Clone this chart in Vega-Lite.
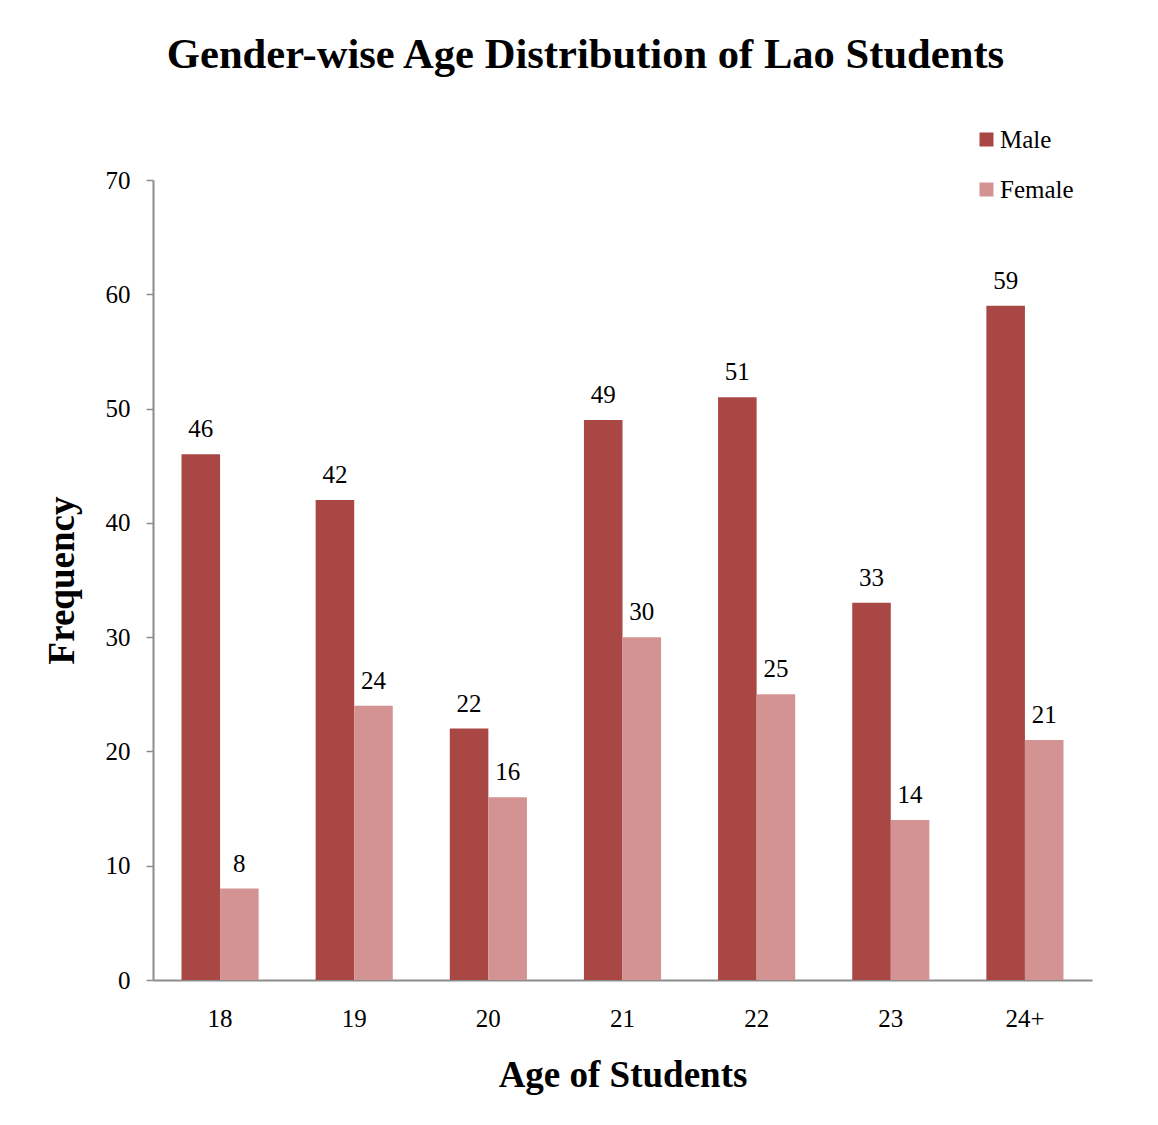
{
  "$schema": "https://vega.github.io/schema/vega-lite/v6.json",
  "width": 939,
  "height": 800,
  "autosize": {"type": "none"},
  "padding": {"left": 153, "top": 180, "right": 66, "bottom": 145},
  "background": "white",
  "title": {
    "text": "Gender-wise Age Distribution of Lao Students",
    "font": "Liberation Serif",
    "fontSize": 42.6,
    "fontWeight": "bold",
    "color": "black",
    "anchor": "middle",
    "frame": "group",
    "dx": -37,
    "offset": 50
  },
  "data": {
    "values": [
      {"age": "18", "gender": "Male", "freq": 46},
      {"age": "18", "gender": "Female", "freq": 8},
      {"age": "19", "gender": "Male", "freq": 42},
      {"age": "19", "gender": "Female", "freq": 24},
      {"age": "20", "gender": "Male", "freq": 22},
      {"age": "20", "gender": "Female", "freq": 16},
      {"age": "21", "gender": "Male", "freq": 49},
      {"age": "21", "gender": "Female", "freq": 30},
      {"age": "22", "gender": "Male", "freq": 51},
      {"age": "22", "gender": "Female", "freq": 25},
      {"age": "23", "gender": "Male", "freq": 33},
      {"age": "23", "gender": "Female", "freq": 14},
      {"age": "24+", "gender": "Male", "freq": 59},
      {"age": "24+", "gender": "Female", "freq": 21}
    ]
  },
  "encoding": {
    "x": {
      "field": "age",
      "type": "nominal",
      "sort": null,
      "scale": {"paddingInner": 0.425, "paddingOuter": 0.2125},
      "axis": {
        "title": "Age of Students",
        "titleFont": "Liberation Serif",
        "titleFontSize": 37,
        "titleFontWeight": "bold",
        "titleColor": "black",
        "titlePadding": 26,
        "labelFont": "Liberation Serif",
        "labelFontSize": 25,
        "labelColor": "black",
        "labelAngle": 0,
        "labelPadding": 26,
        "ticks": false,
        "domainColor": "#8c8c8c",
        "domainWidth": 2
      }
    },
    "xOffset": {"field": "gender", "type": "nominal", "sort": ["Male", "Female"], "scale": {"paddingInner": 0}},
    "y": {
      "field": "freq",
      "type": "quantitative",
      "scale": {"domain": [0, 70]},
      "axis": {
        "title": "Frequency",
        "titleFont": "Liberation Serif",
        "titleFontSize": 37,
        "titleFontWeight": "bold",
        "titleColor": "black",
        "titlePadding": 24,
        "labelFont": "Liberation Serif",
        "labelFontSize": 25,
        "labelColor": "black",
        "labelPadding": 16,
        "labelOverlap": false,
        "values": [0, 10, 20, 30, 40, 50, 60, 70],
        "grid": false,
        "tickSize": 7,
        "tickColor": "#8c8c8c",
        "tickWidth": 1.5,
        "domainColor": "#8c8c8c",
        "domainWidth": 2
      }
    }
  },
  "layer": [
    {
      "mark": {"type": "bar"},
      "encoding": {
        "color": {
          "field": "gender",
          "type": "nominal",
          "sort": ["Male", "Female"],
          "scale": {"domain": ["Male", "Female"], "range": ["#A94745", "#D39392"]},
          "legend": {
            "title": null,
            "orient": "none",
            "legendX": 821,
            "legendY": -53,
            "symbolType": "square",
            "symbolSize": 196,
            "symbolStrokeWidth": 0,
            "labelFont": "Liberation Serif",
            "labelFontSize": 25,
            "labelColor": "black",
            "labelOffset": 1,
            "rowPadding": 24
          }
        }
      }
    },
    {
      "mark": {"type": "text", "baseline": "alphabetic", "dy": -17, "font": "Liberation Serif", "fontSize": 25, "color": "black"},
      "encoding": {
        "text": {"field": "freq", "type": "quantitative"}
      }
    }
  ],
  "config": {"view": {"stroke": null}}
}
